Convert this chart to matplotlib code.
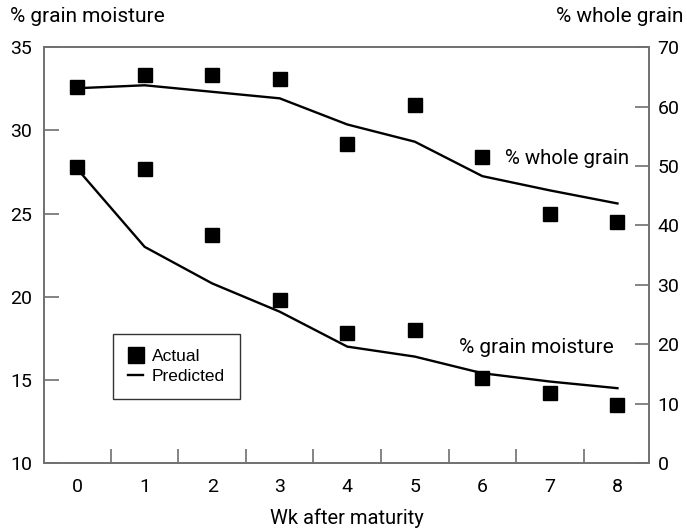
import matplotlib
matplotlib.use("Agg")
import matplotlib.pyplot as plt
from matplotlib.lines import Line2D
from matplotlib import font_manager

weeks = [0, 1, 2, 3, 4, 5, 6, 7, 8]

# % grain moisture (left axis)
moisture_actual = [27.8, 27.7, 23.7, 19.8, 17.8, 18.0, 15.1, 14.2, 13.5]
moisture_pred = [27.7, 23.0, 20.8, 19.1, 17.0, 16.4, 15.4, 14.9, 14.5]

# % whole grain (right axis)
whole_actual = [63.3, 65.3, 65.3, 64.6, 53.7, 60.3, 51.5, 41.9, 40.6]
whole_pred = [63.1, 63.6, 62.5, 61.4, 57.0, 54.1, 48.3, 45.9, 43.7]

left_ticks = [10, 15, 20, 25, 30, 35]
right_ticks = [0, 10, 20, 30, 40, 50, 60, 70]

installed = {f.name for f in font_manager.fontManager.ttflist}
main_font = [f for f in ["Liberation Sans Narrow", "Roboto", "DejaVu Sans"] if f in installed]
legend_font = [f for f in ["Liberation Sans", "DejaVu Sans"] if f in installed]
plt.rcParams["font.family"] = main_font

spine_col = "#707070"

fig = plt.figure(figsize=(6.87, 5.31), dpi=100)
ax = fig.add_axes([0.064, 0.128, 0.881, 0.783])
ax2 = ax.twinx()

ax.set_xlim(-0.49, 8.47)
ax.set_ylim(10, 35)
ax2.set_ylim(0, 70)

ms = 10.5
ax.plot(weeks, moisture_pred, color="black", lw=1.7, zorder=2)
ax.plot(weeks, moisture_actual, ls="none", marker="s", ms=ms, color="black", zorder=3)
ax2.plot(weeks, whole_pred, color="black", lw=1.7, zorder=2)
ax2.plot(weeks, whole_actual, ls="none", marker="s", ms=ms, color="black", zorder=3)

for a in (ax, ax2):
    for s in a.spines.values():
        s.set_color(spine_col)
        s.set_linewidth(1.2)

# x axis: labels at whole weeks, tick marks between them
ax.set_xticks(weeks)
ax.set_xticklabels([str(w) for w in weeks], fontsize=14)
ax.set_xticks([w + 0.5 for w in weeks[:-1]], minor=True)
ax.tick_params(axis="x", which="major", length=0, pad=10.5)
ax.tick_params(axis="x", which="minor", direction="in", length=10, width=1.2, color=spine_col)
ax.set_xlabel("Wk after maturity", fontsize=14.5, labelpad=9)

ax.set_yticks(left_ticks)
ax.set_yticklabels([str(t) for t in left_ticks], fontsize=14)
ax.tick_params(axis="y", direction="in", length=11, width=1.2, color=spine_col, pad=8.5)

ax2.set_yticks(right_ticks)
ax2.set_yticklabels([str(t) for t in right_ticks], fontsize=14)
ax2.tick_params(axis="y", direction="in", length=10, width=1.2, color=spine_col, pad=6)

fig.text(10 / 687, 1 - 17 / 531, "% grain moisture", fontsize=15, ha="left", va="center")
fig.text(683 / 687, 1 - 17 / 531, "% whole grain", fontsize=15, ha="right", va="center")

ax2.text(6.34, whole_actual[6] - 0.3, "% whole grain", fontsize=14.7, ha="left", va="center")
ax.text(5.66, 16.95, "% grain moisture", fontsize=15, ha="left", va="center")

handles = [
    Line2D([], [], ls="none", marker="s", ms=11, color="black"),
    Line2D([], [], color="black", lw=1.7),
]
leg = ax.legend(handles, ["Actual", "Predicted"], loc="lower left",
                bbox_to_anchor=(0.114, 0.154), borderaxespad=0, fancybox=False,
                framealpha=1, edgecolor="#333333", handlelength=0.9,
                handletextpad=0.5, borderpad=0.85, labelspacing=0.3,
                prop={"family": legend_font, "size": 12.5})
leg.get_frame().set_linewidth(1.0)

fig.savefig("out.png", dpi=100)
